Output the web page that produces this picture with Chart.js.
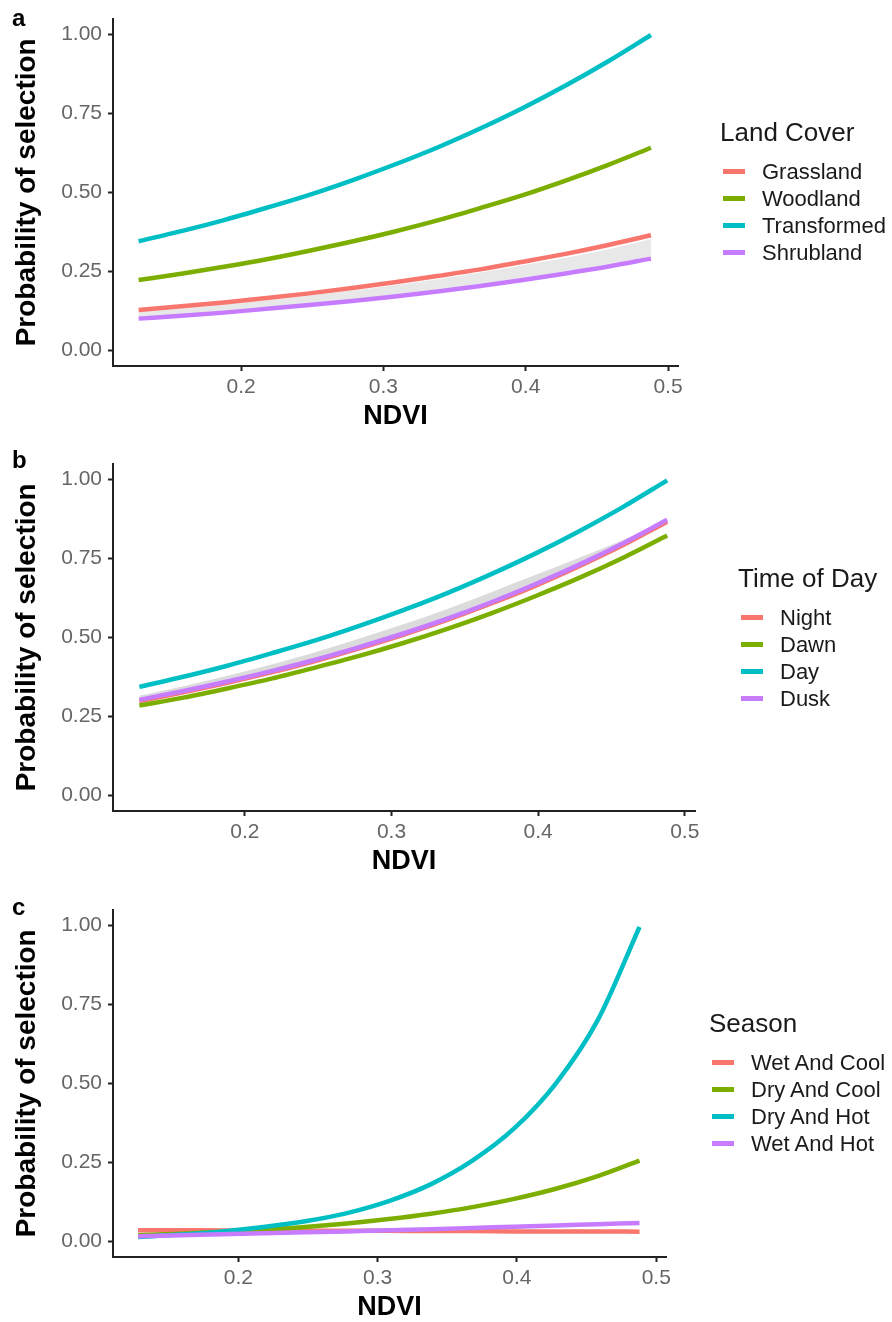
<!DOCTYPE html>
<html>
<head>
<meta charset="utf-8">
<title>Probability of selection vs NDVI</title>
<script src="https://cdn.jsdelivr.net/npm/chart.js@4.4.1/dist/chart.umd.min.js"></script>
<style>
  body { margin: 0; background: #fff; }
  #fig { position: relative; width: 892px; height: 1322px; overflow: hidden; background: #fff;
         font-family: "Liberation Sans", Arial, sans-serif; }
  canvas.panel { position: absolute; left: 0; }
  .tag { position: absolute; left: 12px; font-weight: bold; font-size: 24px; line-height: 24px; color: #000; }
  .legend { position: absolute; color: #1a1a1a; white-space: nowrap; }
  .legend .ttl { font-size: 26px; line-height: 30px; margin-left: -3px; }
  .legend .row { position: relative; height: 27px; line-height: 27px; font-size: 22px; padding-left: 39px; }
  .legend .key { position: absolute; left: 0; top: 11px; width: 22px; height: 5px; }
</style>
</head>
<body>
<div id="fig">
  <canvas class="panel" id="chartA" width="892" height="445" style="top:0px"></canvas>
  <canvas class="panel" id="chartB" width="892" height="445" style="top:445px"></canvas>
  <canvas class="panel" id="chartC" width="892" height="445" style="top:891px"></canvas>
  <div class="tag" style="top:6px">a</div>
  <div class="tag" style="top:448px">b</div>
  <div class="tag" style="top:895px">c</div>
</div>
<script>
// NDVI values where the fitted curves were sampled
const ndvi = [0.128, 0.158, 0.188, 0.218, 0.248, 0.278, 0.308, 0.338, 0.368, 0.398, 0.428, 0.458, 0.488];

const xTicks = [0.2, 0.3, 0.4, 0.5];
const yTicks = [0, 0.25, 0.5, 0.75, 1];
const hue = ['#F8766D', '#7CAE00', '#00BFC4', '#C77CFF'];

// a - land cover
const landCover = ['Grassland', 'Woodland', 'Transformed', 'Shrubland'];
const grassland   = [0.127, 0.139, 0.151, 0.165, 0.180, 0.197, 0.215, 0.235, 0.256, 0.280, 0.305, 0.333, 0.364];
const woodland    = [0.222, 0.242, 0.264, 0.288, 0.315, 0.344, 0.376, 0.411, 0.450, 0.491, 0.537, 0.587, 0.641];
const transformed = [0.345, 0.377, 0.412, 0.451, 0.492, 0.538, 0.588, 0.642, 0.702, 0.767, 0.838, 0.915, 0.998];
const shrubland   = [0.100, 0.109, 0.119, 0.131, 0.143, 0.156, 0.170, 0.186, 0.203, 0.222, 0.243, 0.265, 0.290];
const bandAHi     = [0.122, 0.133, 0.145, 0.158, 0.173, 0.189, 0.206, 0.225, 0.246, 0.269, 0.293, 0.320, 0.352];
const bandALo     = [0.104, 0.113, 0.123, 0.135, 0.148, 0.161, 0.176, 0.192, 0.210, 0.229, 0.250, 0.273, 0.297];

// b - time of day
const timeOfDay = ['Night', 'Dawn', 'Day', 'Dusk'];
const night = [0.298, 0.326, 0.356, 0.389, 0.425, 0.465, 0.508, 0.555, 0.607, 0.663, 0.725, 0.792, 0.866];
const dawn  = [0.284, 0.309, 0.338, 0.369, 0.404, 0.441, 0.482, 0.527, 0.576, 0.630, 0.688, 0.752, 0.822];
const day   = [0.343, 0.375, 0.410, 0.449, 0.490, 0.536, 0.586, 0.640, 0.700, 0.765, 0.836, 0.913, 0.997];
const dusk  = [0.302, 0.330, 0.360, 0.393, 0.429, 0.469, 0.512, 0.559, 0.611, 0.668, 0.730, 0.798, 0.872];
const bandBHi = [0.315, 0.345, 0.378, 0.414, 0.453, 0.496, 0.541, 0.590, 0.643, 0.697, 0.752, 0.808, 0.868];
const bandBLo = [0.298, 0.326, 0.356, 0.389, 0.425, 0.465, 0.508, 0.555, 0.607, 0.663, 0.725, 0.792, 0.866];

// c - season
const season = ['Wet And Cool', 'Dry And Cool', 'Dry And Hot', 'Wet And Hot'];
const wetCool = [0.035, 0.035, 0.034, 0.034, 0.033, 0.033, 0.033, 0.032, 0.032, 0.031, 0.031, 0.031, 0.030];
const dryCool = [0.019, 0.024, 0.030, 0.037, 0.045, 0.056, 0.070, 0.087, 0.108, 0.134, 0.166, 0.206, 0.255];
const dryHot  = [0.013, 0.021, 0.031, 0.045, 0.063, 0.089, 0.127, 0.180, 0.255, 0.357, 0.500, 0.700, 0.995];
const wetHot  = [0.016, 0.019, 0.022, 0.025, 0.028, 0.031, 0.035, 0.038, 0.042, 0.046, 0.050, 0.054, 0.058];

const family = '"Liberation Sans", Arial, sans-serif';

function pts(ys) {
  return ndvi.map((x, i) => ({ x: x, y: ys[i] }));
}

function makePanel(id, names, series, band, rightPad) {
  const datasets = [];
  if (band) {
    // grey confidence band, filled between the two edges
    datasets.push({ data: pts(band.hi), borderWidth: 0, pointRadius: 0, fill: '+1',
                    backgroundColor: band.color, order: 20, cubicInterpolationMode: 'monotone' });
    datasets.push({ data: pts(band.lo), borderWidth: 0, pointRadius: 0, fill: false,
                    order: 21, cubicInterpolationMode: 'monotone' });
  }
  series.forEach((ys, i) => {
    datasets.push({
      label: names[i], data: pts(ys), borderColor: hue[i], borderWidth: 4.5,
      pointRadius: 0, fill: false, borderCapStyle: 'butt',
      cubicInterpolationMode: 'monotone', order: series.length - i
    });
  });

  new Chart(document.getElementById(id), {
    type: 'line',
    data: { datasets: datasets },
    options: {
      responsive: false,
      animation: false,
      layout: { padding: { top: 16, right: rightPad, bottom: 0, left: 0 } },
      plugins: { legend: { display: false }, tooltip: { enabled: false } },
      scales: {
        x: {
          type: 'linear', min: 0.11, max: 0.507,
          afterBuildTicks: s => { s.ticks = xTicks.map(v => ({ value: v })); },
          afterFit: s => { s.height = 79; },
          ticks: { callback: v => String(v), color: '#666', font: { size: 21, family: family },
                   padding: 4, maxRotation: 0, autoSkip: false },
          grid: { display: true, drawOnChartArea: false, drawTicks: true, tickLength: 5, tickWidth: 2, color: '#222' },
          border: { display: true, color: '#222', width: 2 },
          title: { display: true, text: 'NDVI', color: '#000',
                   font: { size: 27, weight: 'bold', family: family }, padding: { top: 0, bottom: 12 } }
        },
        y: {
          min: -0.05, max: 1.05,
          afterBuildTicks: s => { s.ticks = yTicks.map(v => ({ value: v })); },
          afterFit: s => { s.width = 113; },
          ticks: { callback: v => v.toFixed(2), color: '#666', font: { size: 21, family: family }, padding: 6 },
          grid: { display: true, drawOnChartArea: false, drawTicks: true, tickLength: 5, tickWidth: 2, color: '#222' },
          border: { display: true, color: '#222', width: 2 },
          title: { display: true, text: 'Probability of selection', color: '#000',
                   font: { size: 28, weight: 'bold', family: family }, padding: { top: 10, bottom: 0 } }
        }
      }
    }
  });
}

function makeLegend(left, titleMid, title, names) {
  const box = document.createElement('div');
  box.className = 'legend';
  box.style.left = left + 'px';
  box.style.top = (titleMid - 15) + 'px';
  let html = '<div class="ttl">' + title + '</div><div style="height:11px"></div>';
  names.forEach((n, i) => {
    html += '<div class="row"><span class="key" style="background:' + hue[i] + '"></span>' + n + '</div>';
  });
  box.innerHTML = html;
  document.getElementById('fig').appendChild(box);
}

makePanel('chartA', landCover, [grassland, woodland, transformed, shrubland],
          { hi: bandAHi, lo: bandALo, color: 'rgba(0,0,0,0.09)' }, 214);
makePanel('chartB', timeOfDay, [night, dawn, day, dusk],
          { hi: bandBHi, lo: bandBLo, color: 'rgba(0,0,0,0.14)' }, 197);
makePanel('chartC', season, [wetCool, dryCool, dryHot, wetHot], null, 226);

makeLegend(723, 132, 'Land Cover', landCover);
makeLegend(741, 578, 'Time of Day', timeOfDay);
makeLegend(712, 1023, 'Season', season);
</script>
</body>
</html>
